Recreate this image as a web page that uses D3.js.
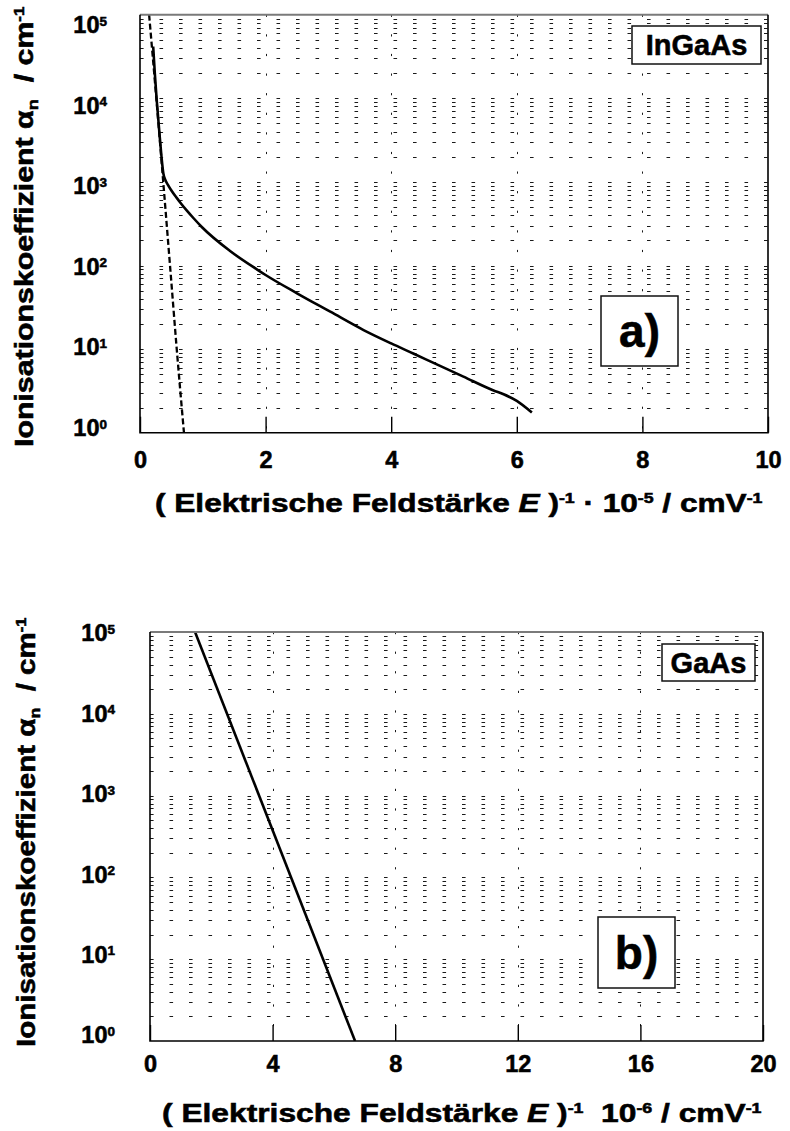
<!DOCTYPE html>
<html>
<head>
<meta charset="utf-8">
<script src="https://cdn.jsdelivr.net/npm/d3@7"></script>
<style>
  body { margin: 0; background: #fff; }
  svg { display: block; }
  text { stroke: #000; stroke-width: 0.55px; paint-order: stroke; }
</style>
</head>
<body>
<svg id="fig" width="790" height="1131"></svg>
<script>
// ---- data -------------------------------------------------------------
// InGaAs, measured electron ionisation coefficient vs. inverse field (1e-5 cm/V)
const ingaasInvField = [0.21, 0.236, 0.266, 0.319, 0.345, 0.372, 0.40, 0.44, 0.50, 0.585,
                        0.64, 0.75, 0.85, 0.984, 1.44, 1.86, 2.0, 2.5, 3.03, 3.56,
                        4.0, 4.36, 4.7, 5.15, 5.63, 5.79, 6.0, 6.24];
const ingaasAlpha    = [41700, 19950, 9550, 3160, 1905, 1259, 1072, 933, 791, 644,
                        568, 450, 370, 289, 148, 90, 77, 46.5, 28, 16.9,
                        11.7, 8.8, 6.7, 4.68, 3.2, 2.88, 2.4, 1.74];
// InGaAs, dashed reference line
const ingaasRefInvField = [0.145, 0.26, 0.37, 0.478, 0.585, 0.70];
const ingaasRefAlpha    = [1e5, 1e4, 1e3, 1e2, 10, 1];
// GaAs (inverse field in 1e-6 cm/V)
const gaasInvField = [1.47, 6.69];
const gaasAlpha    = [1e5, 1];

// axes
const yTickValues = [1, 10, 100, 1000, 1e4, 1e5];
const xTicksA = [0, 2, 4, 6, 8, 10];
const xTicksB = [0, 4, 8, 12, 16, 20];

// ---- layout ------------------------------------------------------------
const FONT = '"Liberation Sans", Arial, Helvetica, sans-serif';
const svg = d3.select("#fig").attr("font-family", FONT).attr("font-weight", "bold");

const panels = [
  {
    id: "a", L: 140, R: 768, T: 14.7, B: 432.7,
    xTicks: xTicksA, tickPad: 19,
    labTop: 24.7, labBottom: 427.7, labRight: 107,
    xTitle: { x0: 155, x1: 763, base: 511.7, dot: true, exp: "-5" },
    yTitle: { x: 33, y0: 447, y1: 6 },
    material: { text: "InGaAs", x0: 632, x1: 761, y0: 26, y1: 64 },
    tag: { text: "a)", x0: 601, x1: 678, y0: 296, y1: 366 },
    series: [
      { xs: ingaasInvField, ys: ingaasAlpha, dash: null, width: 2.6, curve: d3.curveMonotoneX },
      { xs: ingaasRefInvField, ys: ingaasRefAlpha, dash: "6,3", width: 2.3, curve: d3.curveMonotoneX }
    ]
  },
  {
    id: "b", L: 150, R: 763, T: 632, B: 1041,
    xTicks: xTicksB, tickPad: 14.7,
    labTop: 633, labBottom: 1035, labRight: 115,
    xTitle: { x0: 162, x1: 762, base: 1122, dot: false, exp: "-6" },
    yTitle: { x: 35, y0: 1047, y1: 617 },
    material: { text: "GaAs", x0: 662, x1: 755, y0: 644, y1: 681 },
    tag: { text: "b)", x0: 598, x1: 675, y0: 917, y1: 988 },
    series: [
      { xs: gaasInvField, ys: gaasAlpha, dash: null, width: 2.6, curve: d3.curveLinear }
    ]
  }
];

function drawPanel(p) {
  const g = svg.append("g").attr("class", "panel-" + p.id);
  const x = d3.scaleLinear().domain(d3.extent(p.xTicks)).range([p.L, p.R]);
  const y = d3.scaleLog().domain([1, 1e5]).range([p.B, p.T]);

  // horizontal dashed grid at every decade subdivision
  const minor = [];
  for (let k = 0; k < 5; k++) for (let m = 1; m <= 9; m++) {
    const v = m * Math.pow(10, k);
    if (v > 1 && v < 1e5) minor.push(v);
  }
  g.append("g").selectAll("line").data(minor).join("line")
    .attr("x1", p.L).attr("x2", p.R)
    .attr("y1", d => Math.round(y(d)) + 0.5).attr("y2", d => Math.round(y(d)) + 0.5)
    .attr("stroke", "#1a1a1a").attr("stroke-width", 1)
    .attr("stroke-dasharray", "3.6,15.9");

  // vertical dashed grid at inner major ticks
  const inner = p.xTicks.slice(1, -1);
  g.append("g").selectAll("line").data(inner).join("line")
    .attr("x1", d => Math.round(x(d)) + 0.5).attr("x2", d => Math.round(x(d)) + 0.5)
    .attr("y1", p.T).attr("y2", p.B)
    .attr("stroke", "#1a1a1a").attr("stroke-width", 1)
    .attr("stroke-dasharray", "2.2,17.4");

  // curves
  const clipId = "clip-" + p.id;
  g.append("clipPath").attr("id", clipId).append("rect")
    .attr("x", p.L).attr("y", p.T).attr("width", p.R - p.L).attr("height", p.B - p.T);
  p.series.forEach(s => {
    const pts = s.xs.map((v, i) => [v, s.ys[i]]);
    const line = d3.line().x(d => x(d[0])).y(d => y(d[1])).curve(s.curve);
    g.append("path").attr("d", line(pts))
      .attr("clip-path", `url(#${clipId})`)
      .attr("fill", "none").attr("stroke", "#000")
      .attr("stroke-width", s.width)
      .attr("stroke-dasharray", s.dash)
      .attr("stroke-linejoin", "round");
  });

  // frame
  g.append("line").attr("x1", p.L).attr("x2", p.R).attr("y1", p.T).attr("y2", p.T)
    .attr("stroke", "#7a7a7a").attr("stroke-width", 2);
  g.append("path")
    .attr("d", `M${p.L},${p.T}V${p.B}H${p.R}V${p.T}`)
    .attr("fill", "none").attr("stroke", "#000").attr("stroke-width", 1.6);

  // x axis: inward ticks, bold labels below
  const ax = g.append("g").attr("transform", `translate(0,${p.B})`)
    .call(d3.axisBottom(x).tickValues(p.xTicks).tickFormat(d3.format("d"))
      .tickSizeInner(-16).tickSizeOuter(0).tickPadding(p.tickPad));
  ax.select(".domain").remove();
  ax.attr("font-family", FONT).attr("font-size", 23.5).attr("font-weight", "bold");
  ax.selectAll(".tick line").attr("stroke", "#000").attr("stroke-width", 1.4);
  ax.selectAll(".tick text").attr("fill", "#000");

  // y labels (10^k)
  const lab = d3.scaleLog().domain([1, 1e5]).range([p.labBottom, p.labTop]);
  g.append("g").selectAll("text").data(yTickValues).join("text")
    .attr("x", p.labRight).attr("y", d => lab(d) + 8.3)
    .attr("text-anchor", "end").attr("font-size", 23.5)
    .each(function (d) {
      const t = d3.select(this);
      t.append("tspan").text("10");
      t.append("tspan").attr("font-size", 13.5).attr("dy", -7.5).text(Math.round(Math.log10(d)));
    });

  // x title
  const xt = p.xTitle;
  const xtext = g.append("text").attr("font-size", 25).attr("x", 0).attr("y", 0);
  xtext.append("tspan").text("( Elektrische Feldst\u00e4rke ");
  xtext.append("tspan").attr("font-style", "italic").text("E");
  xtext.append("tspan").text(" )");
  xtext.append("tspan").attr("font-size", 14).attr("dy", -9).text("-1");
  xtext.append("tspan").attr("dy", 9).text(xt.dot ? "\u00a0\u00b7\u00a010" : "\u00a0\u00a010");
  xtext.append("tspan").attr("font-size", 14).attr("dy", -9).text(xt.exp);
  xtext.append("tspan").attr("dy", 9).text(" / cmV");
  xtext.append("tspan").attr("font-size", 14).attr("dy", -9).text("-1");
  const xw = xtext.node().getBBox().width;
  xtext.attr("transform", `translate(${xt.x0},${xt.base}) scale(${(xt.x1 - xt.x0) / xw},1)`);

  // y title (rotated)
  const yt = p.yTitle;
  const ytext = g.append("text").attr("font-size", 25).attr("x", 0).attr("y", 0);
  ytext.append("tspan").text("Ionisationskoeffizient \u03b1");
  ytext.append("tspan").attr("font-size", 15).attr("dy", 5).text("n");
  ytext.append("tspan").attr("dy", -5).text("\u00a0\u00a0/ cm");
  ytext.append("tspan").attr("font-size", 14).attr("dy", -9).text("-1");
  const yw = ytext.node().getBBox().width;
  ytext.attr("transform", `translate(${yt.x},${yt.y0}) rotate(-90) scale(${(yt.y0 - yt.y1) / yw},1)`);

  // boxed labels
  [[p.material, 29], [p.tag, 46]].forEach(([b, fs]) => {
    g.append("rect").attr("x", b.x0).attr("y", b.y0)
      .attr("width", b.x1 - b.x0).attr("height", b.y1 - b.y0)
      .attr("fill", "#fff").attr("stroke", "#111").attr("stroke-width", 1.5);
    g.append("text").attr("x", (b.x0 + b.x1) / 2).attr("y", (b.y0 + b.y1) / 2 + 0.358 * fs)
      .attr("text-anchor", "middle").attr("font-size", fs).text(b.text);
  });
}

panels.forEach(drawPanel);
</script>
</body>
</html>
